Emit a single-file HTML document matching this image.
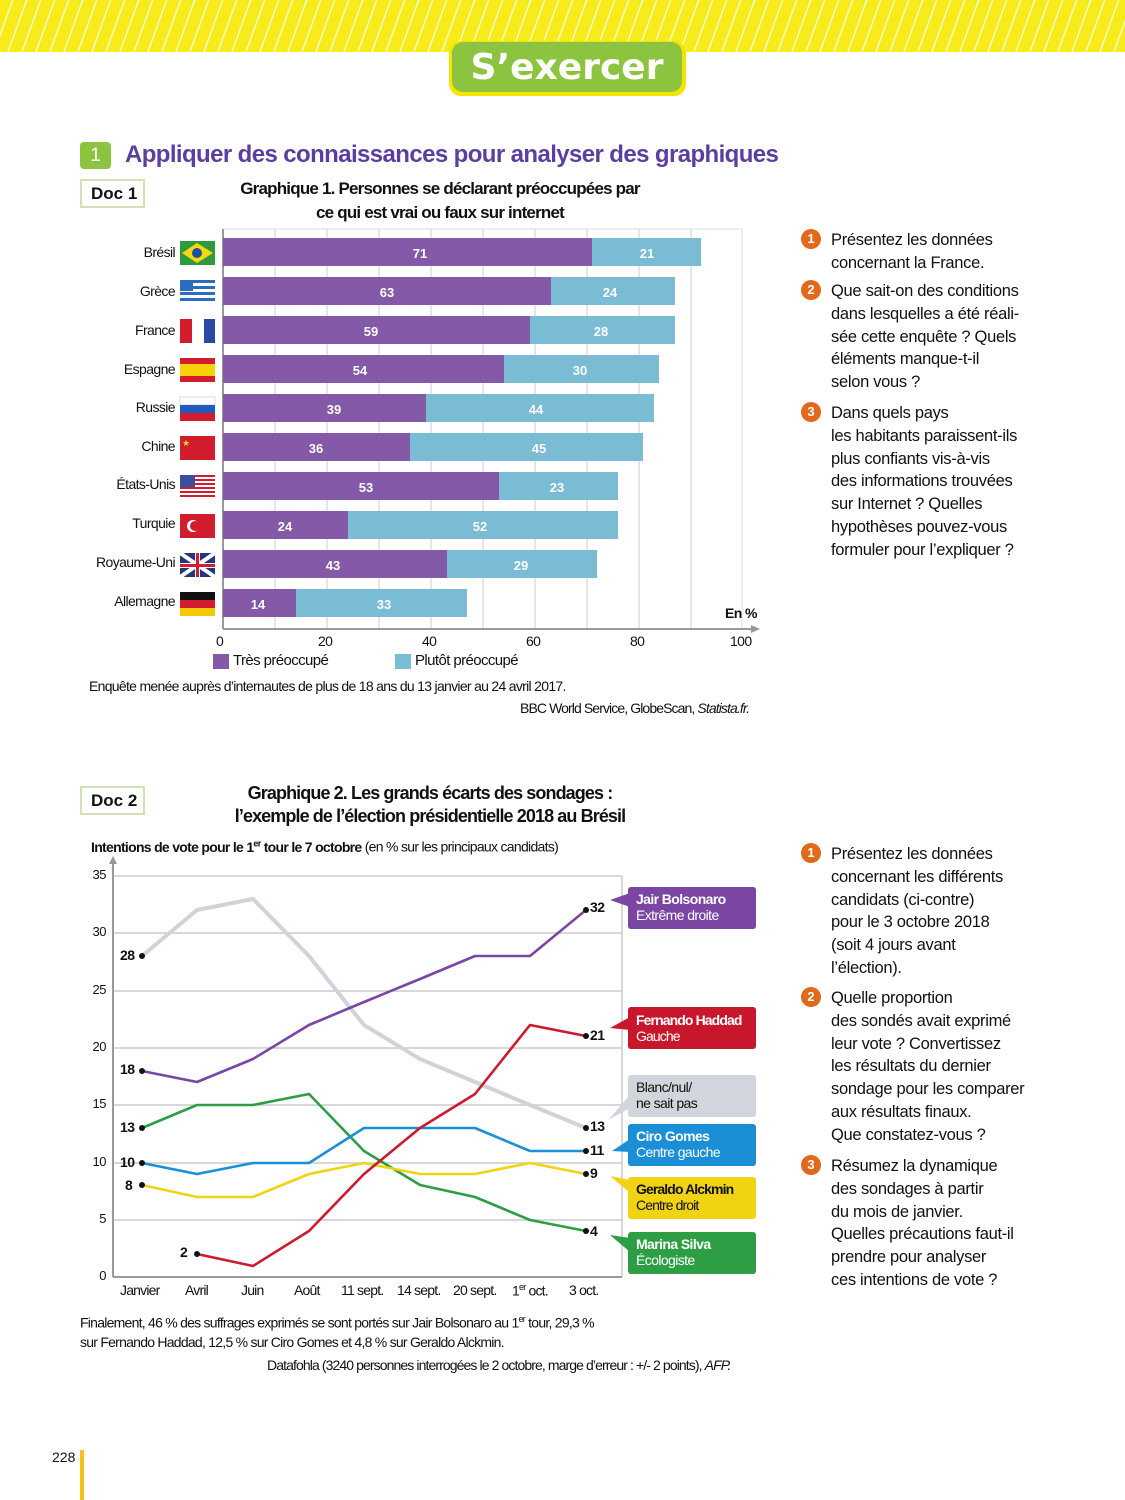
<!DOCTYPE html>
<html><head><meta charset="utf-8"><style>
*{margin:0;padding:0;box-sizing:border-box}
body{width:1125px;height:1500px;position:relative;background:#fff;font-family:"Liberation Sans",sans-serif;overflow:hidden;color:#111}
.a{position:absolute;white-space:nowrap}
.n{font-family:"Liberation Sans",sans-serif;letter-spacing:-0.6px}
.q{position:absolute;left:831px;font-family:"Liberation Sans",sans-serif;font-size:16.5px;line-height:22.8px;color:#111;letter-spacing:-0.3px}
.c{position:absolute;left:801px;width:20px;height:20px;border-radius:50%;background:#e0691b;color:#fff;font-weight:bold;font-size:13px;text-align:center;line-height:20px;font-family:"Liberation Sans",sans-serif}
.doc{position:absolute;left:80px;width:65px;height:29px;border:2px solid #cfe3b5;font-weight:bold;font-size:17px;line-height:25px;padding-left:9px;font-family:"Liberation Sans",sans-serif}
.yt{position:absolute;left:80px;width:26px;text-align:right;font-size:13px;letter-spacing:-0.5px}
.lb{position:absolute;left:636px;font-size:14px;line-height:16px;letter-spacing:-0.6px}
.v{position:absolute;font-size:14px;font-weight:bold;letter-spacing:-0.5px}
</style></head><body>
<svg class="a" style="left:0;top:0" width="1125" height="1500">
<defs><pattern id="st" width="14" height="52" patternUnits="userSpaceOnUse" patternTransform="skewX(-20)"><rect width="14" height="52" fill="#f7ec1a"/><rect x="12" width="1.5" height="52" fill="#fffbd0"/></pattern></defs>
<rect x="0" y="0" width="1125" height="52" fill="url(#st)"/>
<rect x="449" y="41" width="237" height="55" rx="12" fill="#f2e600"/>
<rect x="452" y="42" width="230" height="50" rx="11" fill="#8dc43f"/>
<rect x="80" y="142" width="31" height="27" rx="4" fill="#8dc43f"/>
<rect x="80" y="1450" width="4" height="50" fill="#f2c21b"/>
<rect x="223" y="229" width="519" height="400" fill="#fff" stroke="#ddd"/>
<g stroke="#ccc" stroke-width="1">
<line x1="275" y1="229" x2="275" y2="629"/><line x1="327" y1="229" x2="327" y2="629"/><line x1="379" y1="229" x2="379" y2="629"/><line x1="431" y1="229" x2="431" y2="629"/><line x1="483" y1="229" x2="483" y2="629"/><line x1="535" y1="229" x2="535" y2="629"/><line x1="587" y1="229" x2="587" y2="629"/><line x1="639" y1="229" x2="639" y2="629"/><line x1="691" y1="229" x2="691" y2="629"/>
</g>
<line x1="223" y1="629" x2="755" y2="629" stroke="#999" stroke-width="2"/>
<polygon points="760,629 751,625 751,633" fill="#999"/>
<line x1="223" y1="229" x2="223" y2="629" stroke="#999" stroke-width="2"/>
<rect x="213" y="654" width="16" height="15" fill="#8459a8"/>
<rect x="395" y="654" width="16" height="15" fill="#79bcd3"/>
<g stroke="#ccc" stroke-width="1.5">
<line x1="113" y1="876" x2="622" y2="876"/><line x1="113" y1="933" x2="622" y2="933"/><line x1="113" y1="991" x2="622" y2="991"/><line x1="113" y1="1048" x2="622" y2="1048"/><line x1="113" y1="1105" x2="622" y2="1105"/><line x1="113" y1="1163" x2="622" y2="1163"/><line x1="113" y1="1220" x2="622" y2="1220"/><line x1="622" y1="876" x2="622" y2="1277"/>
</g>
<line x1="113" y1="1277" x2="622" y2="1277" stroke="#999" stroke-width="2"/>
<line x1="113" y1="1277" x2="113" y2="862" stroke="#999" stroke-width="2"/>
<polygon points="113,856 109,864 117,864" fill="#999"/>
<g fill="none" stroke-width="2.6" stroke-linejoin="round">
<polyline stroke="#d0d3d9" stroke-width="4" points="142,956 197,910 253,899 309,956 364,1025 420,1059 475,1082 530,1105 586,1128"/>
<polyline stroke="#7a45a3" points="142,1071 197,1082 253,1059 309,1025 364,1002 420,979 475,956 530,956 586,910"/>
<polyline stroke="#2e9e45" points="142,1128 197,1105 253,1105 309,1094 364,1151 420,1185 475,1197 530,1220 586,1231"/>
<polyline stroke="#1c8fd6" points="142,1163 197,1174 253,1163 309,1163 364,1128 420,1128 475,1128 530,1151 586,1151"/>
<polyline stroke="#f0d414" points="142,1185 197,1197 253,1197 309,1174 364,1163 420,1174 475,1174 530,1163 586,1174"/>
<polyline stroke="#cc1a2e" points="197,1254 253,1266 309,1231 364,1174 420,1128 475,1094 530,1025 586,1036"/>
</g>
<g fill="#111">
<circle cx="142" cy="956" r="3"/><circle cx="142" cy="1071" r="3"/><circle cx="142" cy="1128" r="3"/><circle cx="142" cy="1163" r="3"/><circle cx="142" cy="1185" r="3"/><circle cx="197" cy="1254" r="3"/>
<circle cx="586" cy="910" r="3"/><circle cx="586" cy="1036" r="3"/><circle cx="586" cy="1128" r="3"/><circle cx="586" cy="1151" r="3"/><circle cx="586" cy="1174" r="3"/><circle cx="586" cy="1231" r="3"/>
</g>
<rect x="628" y="887" width="128" height="42" rx="3" fill="#7a45a3"/><polygon points="610,900 630,893 630,907" fill="#7a45a3"/>
<rect x="628" y="1007" width="128" height="42" rx="3" fill="#c8172c"/><polygon points="610,1028 630,1017 630,1030" fill="#c8172c"/>
<rect x="628" y="1075" width="128" height="42" rx="3" fill="#d1d5dc"/><polygon points="608,1120 630,1095 630,1108" fill="#d1d5dc"/>
<rect x="628" y="1124" width="128" height="42" rx="3" fill="#1b8fd6"/><polygon points="612,1151 630,1139 630,1152" fill="#1b8fd6"/>
<rect x="628" y="1177" width="128" height="42" rx="3" fill="#f0d414"/><polygon points="610,1176 630,1180 630,1193" fill="#f0d414"/>
<rect x="628" y="1232" width="128" height="42" rx="3" fill="#2e9e45"/><polygon points="610,1235 630,1238 630,1252" fill="#2e9e45"/>
</svg>
<div class="a" style="left:452px;top:43px;width:230px;text-align:center;font-size:36px;font-weight:bold;color:#fff;font-family:'DejaVu Sans',sans-serif;letter-spacing:0px;line-height:50px">S’exercer</div>
<div class="a" style="left:80px;top:142px;width:31px;text-align:center;color:#fff;font-size:19px;line-height:27px">1</div>
<div class="a" style="left:125px;top:141px;font-size:24px;font-weight:bold;color:#5b3ea0;letter-spacing:-0.6px;line-height:28px">Appliquer des connaissances pour analyser des graphiques</div>
<div class="doc" style="top:179px">Doc 1</div>
<div class="a n" style="left:200px;top:177px;width:480px;text-align:center;font-size:17px;font-weight:bold;line-height:24px;letter-spacing:-0.8px">Graphique 1. Personnes se déclarant préoccupées par<br>ce qui est vrai ou faux sur internet</div>
<div class="a n" style="left:725px;top:605px;font-size:14px;font-weight:bold">En %</div>
<div class="a n" style="left:210px;top:633px;font-size:14px;width:560px">
<span class="a" style="left:6px">0</span><span class="a" style="left:108px">20</span><span class="a" style="left:212px">40</span><span class="a" style="left:316px">60</span><span class="a" style="left:420px">80</span><span class="a" style="left:520px">100</span></div>
<div class="a n" style="left:233px;top:652px;font-size:15px">Très préoccupé</div>
<div class="a n" style="left:415px;top:652px;font-size:15px">Plutôt préoccupé</div>
<div class="a n" style="left:89px;top:678px;font-size:14px;letter-spacing:-0.7px">Enquête menée auprès d’internautes de plus de 18 ans du 13 janvier au 24 avril 2017.</div>
<div class="a n" style="left:520px;top:700px;font-size:14px;letter-spacing:-0.9px">BBC World Service, GlobeScan, <i>Statista.fr.</i></div>
<div class="doc" style="top:786px">Doc 2</div>
<div class="a n" style="left:190px;top:782px;width:480px;text-align:center;font-size:18px;font-weight:bold;line-height:23px;letter-spacing:-0.9px">Graphique 2. Les grands écarts des sondages :<br>l’exemple de l’élection présidentielle 2018 au Brésil</div>
<div class="a n" style="left:91px;top:838px;font-size:14px;letter-spacing:-0.7px"><b>Intentions de vote pour le 1<sup style="font-size:9px">er</sup> tour le 7 octobre</b> (en % sur les principaux candidats)</div>
<div class="yt" style="top:867px">35</div><div class="yt" style="top:924px">30</div><div class="yt" style="top:982px">25</div><div class="yt" style="top:1039px">20</div><div class="yt" style="top:1096px">15</div><div class="yt" style="top:1154px">10</div><div class="yt" style="top:1211px">5</div><div class="yt" style="top:1268px">0</div>
<div class="v" style="left:120px;top:947px">28</div>
<div class="v" style="left:120px;top:1061px">18</div>
<div class="v" style="left:120px;top:1119px">13</div>
<div class="v" style="left:120px;top:1154px">10</div>
<div class="v" style="left:125px;top:1177px">8</div>
<div class="v" style="left:180px;top:1244px">2</div>
<div class="v" style="left:590px;top:899px">32</div>
<div class="v" style="left:590px;top:1027px">21</div>
<div class="v" style="left:590px;top:1118px">13</div>
<div class="v" style="left:590px;top:1142px">11</div>
<div class="v" style="left:590px;top:1165px">9</div>
<div class="v" style="left:590px;top:1223px">4</div>
<div class="lb" style="top:891px;color:#fff"><b>Jair Bolsonaro</b><br>Extrême droite</div>
<div class="lb" style="top:1012px;color:#fff;letter-spacing:-0.9px"><b>Fernando Haddad</b><br>Gauche</div>
<div class="lb" style="top:1079px;color:#111">Blanc/nul/<br>ne sait pas</div>
<div class="lb" style="top:1128px;color:#fff"><b>Ciro Gomes</b><br>Centre gauche</div>
<div class="lb" style="top:1181px;color:#111;letter-spacing:-0.9px"><b>Geraldo Alckmin</b><br>Centre droit</div>
<div class="lb" style="top:1236px;color:#fff"><b>Marina Silva</b><br>Écologiste</div>
<div class="a n" style="top:1282px;font-size:14px;left:0;width:700px;letter-spacing:-0.8px">
<span class="a" style="left:120px">Janvier</span><span class="a" style="left:185px">Avril</span><span class="a" style="left:241px">Juin</span><span class="a" style="left:294px">Août</span><span class="a" style="left:341px">11 sept.</span><span class="a" style="left:397px">14 sept.</span><span class="a" style="left:453px">20 sept.</span><span class="a" style="left:512px">1<sup style="font-size:9px">er</sup> oct.</span><span class="a" style="left:569px">3 oct.</span></div>
<div class="a n" style="left:80px;top:1310px;font-size:14px;line-height:19.5px;letter-spacing:-0.75px">Finalement, 46 % des suffrages exprimés se sont portés sur Jair Bolsonaro au 1<sup style="font-size:9px">er</sup> tour, 29,3 %<br>sur Fernando Haddad, 12,5 % sur Ciro Gomes et 4,8 % sur Geraldo Alckmin.</div>
<div class="a n" style="left:267px;top:1357px;font-size:14px;letter-spacing:-0.9px">Datafohla (3240 personnes interrogées le 2 octobre, marge d’erreur : +/- 2 points), <i>AFP.</i></div>
<div class="a" style="left:52px;top:1449px;font-size:14px">228</div>

<div class="c" style="top:229px">1</div>
<div class="q" style="top:229px">Présentez les données<br>concernant la France.</div>
<div class="c" style="top:280px">2</div>
<div class="q" style="top:280px">Que sait-on des conditions<br>dans lesquelles a été réali-<br>sée cette enquête ? Quels<br>éléments manque-t-il<br>selon vous ?</div>
<div class="c" style="top:402px">3</div>
<div class="q" style="top:402px">Dans quels pays<br>les habitants paraissent-ils<br>plus confiants vis-à-vis<br>des informations trouvées<br>sur Internet ? Quelles<br>hypothèses pouvez-vous<br>formuler pour l’expliquer ?</div>
<div class="c" style="top:843px">1</div>
<div class="q" style="top:843px">Présentez les données<br>concernant les différents<br>candidats (ci-contre)<br>pour le 3 octobre 2018<br>(soit 4 jours avant<br>l’élection).</div>
<div class="c" style="top:987px">2</div>
<div class="q" style="top:987px">Quelle proportion<br>des sondés avait exprimé<br>leur vote ? Convertissez<br>les résultats du dernier<br>sondage pour les comparer<br>aux résultats finaux.<br>Que constatez-vous ?</div>
<div class="c" style="top:1155px">3</div>
<div class="q" style="top:1155px">Résumez la dynamique<br>des sondages à partir<br>du mois de janvier.<br>Quelles précautions faut-il<br>prendre pour analyser<br>ces intentions de vote ?</div>

<svg class="a" style="left:0;top:0" width="1125" height="700">
<g font-family="Liberation Sans, sans-serif" font-size="13" font-weight="bold" fill="#fff" text-anchor="middle">
<rect x="223" y="238" width="369" height="28" fill="#8459a8"/><rect x="592" y="238" width="109" height="28" fill="#79bcd3"/><text x="420" y="258">71</text><text x="647" y="258">21</text>
<rect x="223" y="277" width="328" height="28" fill="#8459a8"/><rect x="551" y="277" width="124" height="28" fill="#79bcd3"/><text x="387" y="297">63</text><text x="610" y="297">24</text>
<rect x="223" y="316" width="307" height="28" fill="#8459a8"/><rect x="530" y="316" width="145" height="28" fill="#79bcd3"/><text x="371" y="336">59</text><text x="601" y="336">28</text>
<rect x="223" y="355" width="281" height="28" fill="#8459a8"/><rect x="504" y="355" width="155" height="28" fill="#79bcd3"/><text x="360" y="375">54</text><text x="580" y="375">30</text>
<rect x="223" y="394" width="203" height="28" fill="#8459a8"/><rect x="426" y="394" width="228" height="28" fill="#79bcd3"/><text x="334" y="414">39</text><text x="536" y="414">44</text>
<rect x="223" y="433" width="187" height="28" fill="#8459a8"/><rect x="410" y="433" width="233" height="28" fill="#79bcd3"/><text x="316" y="453">36</text><text x="539" y="453">45</text>
<rect x="223" y="472" width="276" height="28" fill="#8459a8"/><rect x="499" y="472" width="119" height="28" fill="#79bcd3"/><text x="366" y="492">53</text><text x="557" y="492">23</text>
<rect x="223" y="511" width="125" height="28" fill="#8459a8"/><rect x="348" y="511" width="270" height="28" fill="#79bcd3"/><text x="285" y="531">24</text><text x="480" y="531">52</text>
<rect x="223" y="550" width="224" height="28" fill="#8459a8"/><rect x="447" y="550" width="150" height="28" fill="#79bcd3"/><text x="333" y="570">43</text><text x="521" y="570">29</text>
<rect x="223" y="589" width="73" height="28" fill="#8459a8"/><rect x="296" y="589" width="171" height="28" fill="#79bcd3"/><text x="258" y="609">14</text><text x="384" y="609">33</text>
</g>
<g font-family="Liberation Sans, sans-serif" font-size="14" letter-spacing="-0.6" fill="#111" text-anchor="end">
<text x="175" y="257">Brésil</text><text x="175" y="296">Grèce</text><text x="175" y="335">France</text><text x="175" y="374">Espagne</text><text x="175" y="412">Russie</text><text x="175" y="451">Chine</text><text x="175" y="489">États-Unis</text><text x="175" y="528">Turquie</text><text x="175" y="567">Royaume-Uni</text><text x="175" y="606">Allemagne</text>
</g>
<rect x="180" y="241" width="35" height="24" fill="#2d9a3f"/><polygon points="197,243 213,253 197,263 182,253" fill="#f5d90a"/><circle cx="197" cy="253" r="5" fill="#1d4fa0"/>
<rect x="180" y="280" width="35" height="24" fill="#fff"/><g fill="#2a6dc2"><rect x="180" y="280" width="35" height="3"/><rect x="180" y="286" width="35" height="3"/><rect x="180" y="292" width="35" height="3"/><rect x="180" y="298" width="35" height="3"/><rect x="180" y="280" width="13" height="11"/></g>
<rect x="180" y="319" width="12" height="24" fill="#d21d2f"/><rect x="192" y="319" width="12" height="24" fill="#fff"/><rect x="204" y="319" width="11" height="24" fill="#2b49a3"/>
<rect x="180" y="358" width="35" height="24" fill="#d21d2f"/><rect x="180" y="364" width="35" height="12" fill="#f5d20a"/>
<rect x="180" y="397" width="35" height="8" fill="#fff" stroke="#ddd"/><rect x="180" y="405" width="35" height="8" fill="#1f5cc0"/><rect x="180" y="413" width="35" height="8" fill="#d21d2f"/>
<rect x="180" y="436" width="35" height="24" fill="#d21d2f"/><text x="182" y="446" font-size="9" fill="#f5d20a">★</text>
<rect x="180" y="475" width="35" height="24" fill="#fff"/><g fill="#d21d2f"><rect x="180" y="475" width="35" height="2"/><rect x="180" y="479" width="35" height="2"/><rect x="180" y="483" width="35" height="2"/><rect x="180" y="487" width="35" height="2"/><rect x="180" y="491" width="35" height="2"/><rect x="180" y="495" width="35" height="2"/></g><rect x="180" y="475" width="15" height="12" fill="#3a4ea0"/>
<rect x="180" y="514" width="35" height="24" fill="#d21d2f"/><circle cx="193" cy="526" r="6" fill="#fff"/><circle cx="195" cy="526" r="5" fill="#d21d2f"/>
<rect x="180" y="553" width="35" height="24" fill="#27357d"/><path d="M180,553L215,577M215,553L180,577" stroke="#fff" stroke-width="4"/><rect x="195" y="553" width="5" height="24" fill="#fff"/><rect x="180" y="563" width="35" height="5" fill="#fff"/><rect x="196" y="553" width="3" height="24" fill="#d21d2f"/><rect x="180" y="564" width="35" height="3" fill="#d21d2f"/>
<rect x="180" y="592" width="35" height="8" fill="#111"/><rect x="180" y="600" width="35" height="8" fill="#d21d2f"/><rect x="180" y="608" width="35" height="8" fill="#f5c80a"/>
</svg>
</body></html>
